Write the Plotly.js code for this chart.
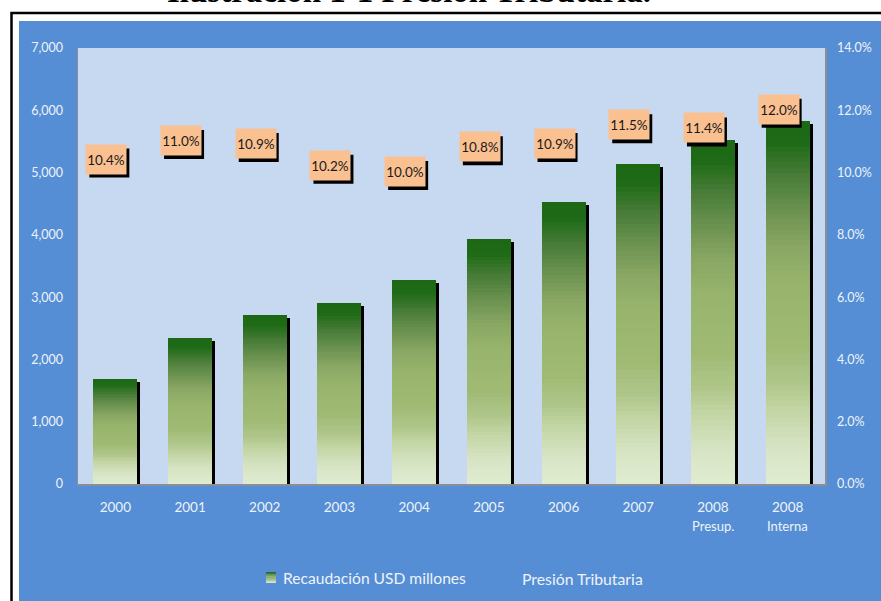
<!DOCTYPE html>
<html><head><meta charset="utf-8">
<script src="https://cdn.plot.ly/plotly-3.0.1.min.js"></script>
<style>html,body{margin:0;padding:0;background:#fff}#chart{width:881px;height:601px}</style>
</head><body><div id="chart"></div>
<script>
// ---- data ----
const years = ['2000','2001','2002','2003','2004','2005','2006','2007','2008','2008'];
const subLabels = ['','','','','','','','','Presup.','Interna'];
const recaudacion = [1690, 2340, 2710, 2900, 3270, 3930, 4525, 5135, 5520, 5830];
const presion = [10.4, 11.0, 10.9, 10.2, 10.0, 10.8, 10.9, 11.5, 11.4, 12.0];
const leftTicks = [0, 1000, 2000, 3000, 4000, 5000, 6000, 7000];
const rightTicks = [0, 2, 4, 6, 8, 10, 12, 14];
const seriesNames = ['Recaudación USD millones', 'Presión Tributaria'];
const titleText = 'Ilustración 1-1 Presión Tributaria.';

// ---- layout geometry ----
const W = 881, H = 601;
const M = {l: 78, r: 56, t: 48, b: 117};
const PW = W - M.l - M.r, PH = H - M.t - M.b;
const px2x = p => (p - M.l) / PW;
const py2y = p => (H - M.b - p) / PH;
const idx = years.map((_, i) => i);
const nCat = years.length;
const catPx = PW / nCat;
const shadowDx = 3 / catPx;              // 3px right
const shadowDy = 3 * 7000 / PH;          // 3px down
const barW = 0.59;
const FONT = 'Lato, "Open Sans", sans-serif';
const tickColor = '#EEF3FA';
const axisColor = '#8A8E96';

// gradient stops (t=0 top of bar, t=1 bottom)
const stops = [
  [0.00, [28,104,20]], [0.06, [30,106,22]], [0.15, [72,124,56]], [0.25, [108,146,80]],
  [0.35, [138,168,100]], [0.45, [152,180,108]], [0.62, [160,186,116]], [0.72, [175,198,138]],
  [0.80, [196,214,166]], [0.90, [214,228,196]], [1.00, [224,235,208]]
];
function gradColor(t) {
  for (let j = 1; j < stops.length; j++) {
    if (t <= stops[j][0]) {
      const [t0, c0] = stops[j-1], [t1, c1] = stops[j];
      const f = (t - t0) / (t1 - t0);
      const c = c0.map((v, k) => Math.round(v + (c1[k] - v) * f));
      return `rgb(${c[0]},${c[1]},${c[2]})`;
    }
  }
  const c = stops[stops.length-1][1];
  return `rgb(${c[0]},${c[1]},${c[2]})`;
}

const traces = [];
// shadow bars (base subplot, shifted axes)
traces.push({
  type: 'bar', x: idx, y: recaudacion, xaxis: 'x', yaxis: 'y', width: barW,
  marker: {color: '#000', line: {width: 0}}, hoverinfo: 'skip', showlegend: false
});
// gradient bars built as stacked slices
const N = 70;
for (let k = 0; k < N; k++) {
  const t = 1 - (k + 0.5) / N;
  traces.push({
    type: 'bar', x: idx, y: recaudacion.map(v => v / N), xaxis: 'x2', yaxis: 'y2', width: barW,
    marker: {color: gradColor(t), line: {width: 0}}, hoverinfo: 'skip', showlegend: false
  });
}
// invisible Presión line (carries the label anchor points)
traces.push({
  type: 'scatter', mode: 'lines', x: idx, y: presion, xaxis: 'x2', yaxis: 'y3',
  line: {width: 0, color: 'rgba(0,0,0,0)'}, hoverinfo: 'skip', showlegend: false
});

const annotations = [];
const shapes = [];
// title
annotations.push({
  xref: 'paper', yref: 'paper', x: px2x(409), y: py2y(11), xanchor: 'center', yanchor: 'bottom',
  text: '<b>' + titleText + '</b>', showarrow: false,
  font: {family: '"Liberation Serif", "Times New Roman", serif', size: 33, color: '#000'}
});
// percentage labels (box + shadow)
const lblDx = -9, lblDy = 1, boxW = 40, boxH = 29;
presion.forEach((p, i) => {
  shapes.push({
    type: 'rect', xref: 'x2', yref: 'y3', layer: 'above',
    xsizemode: 'pixel', xanchor: i, x0: lblDx + 3 - boxW / 2, x1: lblDx + 3 + boxW / 2,
    ysizemode: 'pixel', yanchor: p, y0: lblDy - 4 - boxH / 2, y1: lblDy - 4 + boxH / 2,
    line: {width: 0}, fillcolor: '#000'
  });
  annotations.push({
    xref: 'x2', yref: 'y3', x: i, y: p, text: p.toFixed(1) + '%', showarrow: false,
    width: boxW, height: boxH, borderpad: 0, bgcolor: '#FAC090', valign: 'middle',
    xshift: lblDx, yshift: lblDy, font: {family: FONT, size: 13.5, color: '#1a1a1a'}
  });
});
// second line of x tick labels
subLabels.forEach((s, i) => {
  if (!s) return;
  annotations.push({
    xref: 'x2', yref: 'paper', x: i, y: py2y(526), text: s, showarrow: false,
    xanchor: 'center', yanchor: 'middle', font: {family: FONT, size: 13, color: tickColor}
  });
});
// legend texts
annotations.push({
  xref: 'paper', yref: 'paper', x: px2x(281), y: py2y(578), xanchor: 'left', yanchor: 'middle',
  text: seriesNames[0], showarrow: false, font: {family: FONT, size: 15.6, color: tickColor}
});
annotations.push({
  xref: 'paper', yref: 'paper', x: px2x(520), y: py2y(578), xanchor: 'left', yanchor: 'middle',
  text: seriesNames[1], showarrow: false, font: {family: FONT, size: 15.8, color: tickColor}
});

// outer frame
shapes.push({type: 'rect', xref: 'paper', yref: 'paper', layer: 'below',
  x0: px2x(11.5), x1: px2x(W + 20), y0: py2y(H + 20), y1: py2y(13),
  line: {color: '#000', width: 2.5}, fillcolor: '#fff'});
// blue chart area
shapes.push({type: 'rect', xref: 'paper', yref: 'paper', layer: 'below',
  x0: px2x(19), x1: px2x(W + 20), y0: py2y(H + 20), y1: py2y(21),
  line: {width: 0}, fillcolor: '#558ED5'});
// plot area
shapes.push({type: 'rect', xref: 'paper', yref: 'paper', layer: 'below',
  x0: 0, x1: 1, y0: 0, y1: 1, line: {width: 0}, fillcolor: '#C6D9F1'});
// legend icon (gradient square)
const iconTop = 572, iconBot = 583, iconSteps = 6;
for (let s = 0; s < iconSteps; s++) {
  const a = iconTop + (iconBot - iconTop) * s / iconSteps;
  const b = iconTop + (iconBot - iconTop) * (s + 1) / iconSteps;
  shapes.push({type: 'rect', xref: 'paper', yref: 'paper', layer: 'above',
    x0: px2x(266), x1: px2x(276), y0: py2y(b), y1: py2y(a),
    line: {width: 0}, fillcolor: gradColor((s + 0.5) / iconSteps)});
}

const layout = {
  width: W, height: H, margin: M,
  paper_bgcolor: '#fff', plot_bgcolor: 'rgba(0,0,0,0)',
  barmode: 'stack', bargap: 0, showlegend: false,
  font: {family: FONT, color: tickColor},
  xaxis: {range: [-0.5 - shadowDx, nCat - 0.5 - shadowDx], visible: false, fixedrange: true},
  yaxis: {range: [shadowDy, 7000 + shadowDy], visible: false, fixedrange: true},
  xaxis2: {overlaying: 'x', anchor: 'y2', range: [-0.5, nCat - 0.5],
    tickmode: 'array', tickvals: idx, ticktext: years, ticks: '',
    showline: true, linecolor: axisColor, linewidth: 1.5, showgrid: false, zeroline: false,
    tickfont: {family: FONT, size: 13.5, color: tickColor}, ticklabelstandoff: 10, fixedrange: true},
  yaxis2: {overlaying: 'y', anchor: 'x2', side: 'left', range: [0, 7000],
    tickmode: 'array', tickvals: leftTicks, ticktext: leftTicks.map(v => v.toLocaleString('en-US')), ticks: '',
    showline: true, linecolor: axisColor, linewidth: 1.5, showgrid: false, zeroline: false,
    tickfont: {family: FONT, size: 12.5, color: tickColor}, ticklabelstandoff: 11, fixedrange: true},
  yaxis3: {overlaying: 'y', anchor: 'x2', side: 'right', range: [0, 14],
    tickmode: 'array', tickvals: rightTicks, ticktext: rightTicks.map(v => v.toFixed(1) + '%'), ticks: '',
    showline: true, linecolor: axisColor, linewidth: 1.5, showgrid: false, zeroline: false,
    tickfont: {family: FONT, size: 12.5, color: tickColor}, ticklabelstandoff: 8, fixedrange: true},
  annotations: annotations,
  shapes: shapes
};

Plotly.newPlot('chart', traces, layout, {staticPlot: true, displayModeBar: false});
</script>
</body></html>
